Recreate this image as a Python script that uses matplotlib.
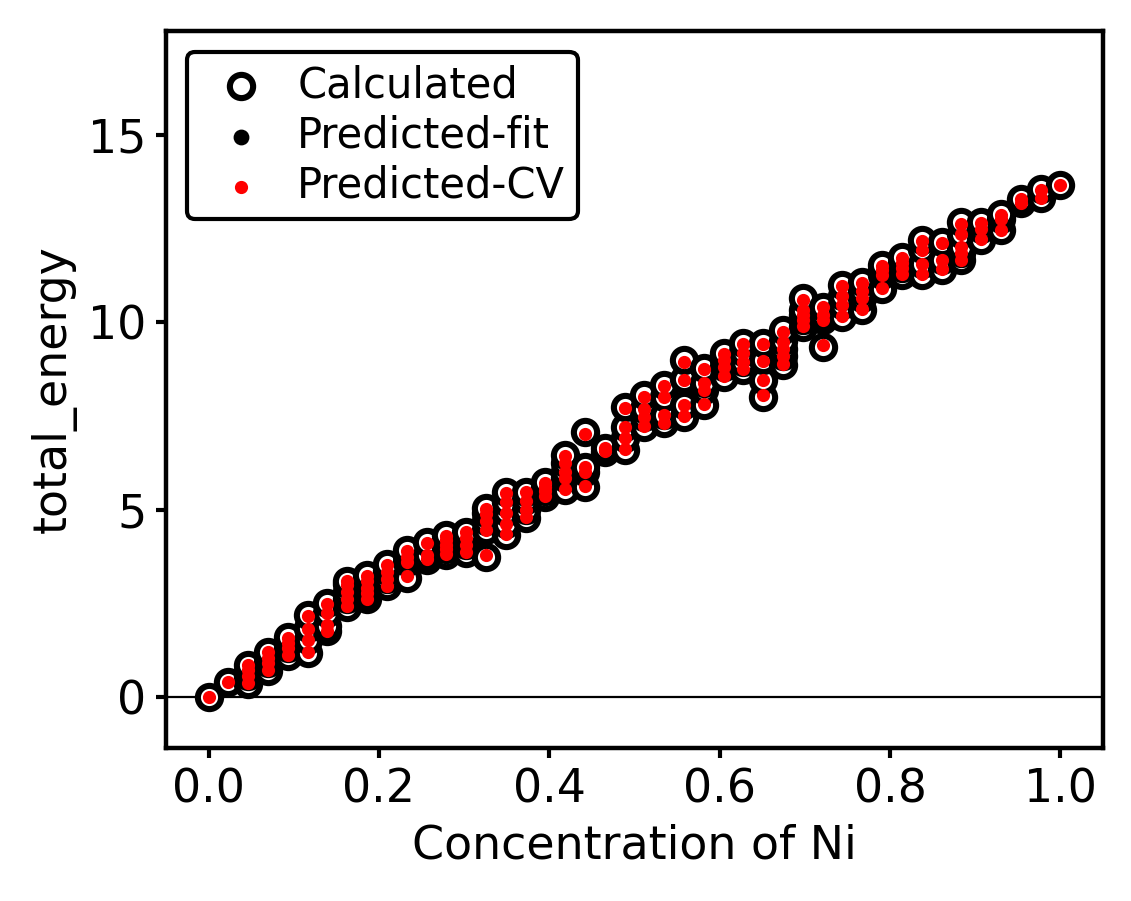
import numpy as np
import matplotlib
matplotlib.use("Agg")
import matplotlib.pyplot as plt

# number of Ni atoms out of 43 sites, one entry per structure
n_ni = [0,
        1,
        2, 2, 2, 2,
        3, 3, 3, 3,
        4, 4, 4, 4,
        5, 5, 5, 5,
        6, 6, 6, 6,
        7, 7, 7, 7, 7,
        8, 8, 8, 8, 8,
        9, 9, 9, 9,
        10, 10, 10, 10,
        11, 11, 11,
        12, 12, 12, 12, 12,
        13, 13, 13, 13,
        14, 14, 14, 14, 14,
        15, 15, 15, 15, 15,
        16, 16, 16, 16,
        17, 17, 17, 17,
        18, 18, 18, 18, 18,
        19, 19, 19, 19,
        20, 20,
        21, 21, 21, 21,
        22, 22, 22, 22,
        23, 23, 23, 23,
        24, 24, 24, 24,
        25, 25, 25, 25,
        26, 26, 26, 26,
        27, 27, 27, 27,
        28, 28, 28, 28,
        29, 29, 29, 29, 29,
        30, 30, 30, 30, 30,
        31, 31, 31, 31,
        32, 32, 32, 32,
        33, 33, 33, 33,
        34, 34, 34, 34,
        35, 35, 35, 35,
        36, 36, 36, 36,
        37, 37, 37,
        38, 38, 38, 38, 38,
        39, 39, 39,
        40, 40, 40,
        41, 41,
        42, 42,
        43]
n_sites = 43

calc_energy = [0.00,
               0.39,
               0.35, 0.55, 0.70, 0.85,
               0.70, 0.90, 1.05, 1.20,
               1.10, 1.30, 1.45, 1.60,
               1.17, 1.52, 1.84, 2.19,
               1.75, 1.90, 2.24, 2.50,
               2.40, 2.60, 2.80, 3.00, 3.10,
               2.60, 2.75, 2.90, 3.10, 3.25,
               2.95, 3.15, 3.35, 3.55,
               3.18, 3.60, 3.75, 3.92,
               3.66, 3.78, 4.14,
               3.80, 3.95, 4.06, 4.20, 4.32,
               3.85, 4.05, 4.25, 4.41,
               3.74, 4.46, 4.70, 4.90, 5.04,
               4.33, 4.62, 4.93, 5.20, 5.48,
               4.77, 5.00, 5.25, 5.48,
               5.35, 5.50, 5.60, 5.74,
               5.52, 5.84, 6.00, 6.25, 6.46,
               5.60, 6.00, 6.15, 7.08,
               6.55, 6.65,
               6.59, 6.90, 7.21, 7.75,
               7.20, 7.48, 7.70, 8.06,
               7.30, 7.53, 8.01, 8.33,
               7.48, 7.79, 8.48, 8.99,
               7.79, 8.20, 8.37, 8.77,
               8.55, 8.80, 9.00, 9.17,
               8.73, 8.95, 9.20, 9.44,
               8.01, 8.46, 8.99, 9.44,
               8.86, 9.10, 9.30, 9.50, 9.79,
               9.88, 10.06, 10.20, 10.33, 10.64,
               9.35, 10.06, 10.20, 10.42,
               10.15, 10.46, 10.70, 10.99,
               10.33, 10.64, 10.85, 11.08,
               10.90, 11.26, 11.40, 11.53,
               11.26, 11.45, 11.60, 11.75,
               11.26, 11.57, 11.95, 12.20,
               11.40, 11.66, 12.15,
               11.66, 11.85, 12.02, 12.37, 12.68,
               12.20, 12.50, 12.68,
               12.46, 12.75, 12.90,
               13.20, 13.30,
               13.31, 13.57,
               13.68]

fit_energy = [0.00,
              0.40,
              0.36, 0.55, 0.71, 0.84,
              0.71, 0.90, 1.04, 1.19,
              1.11, 1.30, 1.45, 1.59,
              1.18, 1.52, 1.83, 2.18,
              1.76, 1.91, 2.23, 2.49,
              2.41, 2.60, 2.79, 2.99, 3.09,
              2.61, 2.76, 2.90, 3.09, 3.24,
              2.96, 3.15, 3.34, 3.54,
              3.20, 3.60, 3.74, 3.91,
              3.67, 3.79, 4.13,
              3.81, 3.95, 4.06, 4.19, 4.31,
              3.86, 4.05, 4.24, 4.40,
              3.76, 4.46, 4.69, 4.89, 5.03,
              4.34, 4.62, 4.92, 5.19, 5.46,
              4.78, 5.00, 5.24, 5.47,
              5.36, 5.50, 5.60, 5.73,
              5.53, 5.84, 6.00, 6.24, 6.45,
              5.61, 6.00, 6.15, 7.05,
              6.56, 6.65,
              6.60, 6.90, 7.20, 7.73,
              7.21, 7.48, 7.70, 8.04,
              7.31, 7.53, 8.00, 8.31,
              7.49, 7.80, 8.47, 8.96,
              7.80, 8.20, 8.37, 8.76,
              8.56, 8.80, 9.00, 9.16,
              8.74, 8.95, 9.19, 9.43,
              8.03, 8.46, 8.98, 9.43,
              8.87, 9.10, 9.30, 9.49, 9.77,
              9.89, 10.06, 10.20, 10.32, 10.62,
              9.37, 10.06, 10.20, 10.41,
              10.16, 10.46, 10.70, 10.98,
              10.34, 10.64, 10.85, 11.07,
              10.91, 11.26, 11.40, 11.52,
              11.27, 11.45, 11.60, 11.74,
              11.27, 11.57, 11.94, 12.19,
              11.41, 11.66, 12.14,
              11.67, 11.85, 12.02, 12.36, 12.66,
              12.21, 12.50, 12.67,
              12.47, 12.75, 12.89,
              13.20, 13.29,
              13.31, 13.56,
              13.67]

cv_energy = [0.00,
             0.40,
             0.37, 0.55, 0.71, 0.84,
             0.72, 0.90, 1.04, 1.19,
             1.12, 1.30, 1.45, 1.58,
             1.19, 1.52, 1.82, 2.17,
             1.77, 1.91, 2.23, 2.48,
             2.42, 2.60, 2.79, 2.98, 3.08,
             2.62, 2.76, 2.90, 3.09, 3.23,
             2.97, 3.15, 3.34, 3.53,
             3.22, 3.60, 3.74, 3.90,
             3.68, 3.79, 4.12,
             3.82, 3.95, 4.06, 4.19, 4.30,
             3.87, 4.05, 4.24, 4.39,
             3.78, 4.46, 4.69, 4.89, 5.02,
             4.35, 4.62, 4.92, 5.19, 5.45,
             4.79, 5.00, 5.24, 5.46,
             5.37, 5.50, 5.60, 5.72,
             5.54, 5.84, 6.00, 6.24, 6.44,
             5.62, 6.00, 6.15, 7.02,
             6.57, 6.65,
             6.61, 6.90, 7.20, 7.71,
             7.22, 7.48, 7.70, 8.02,
             7.32, 7.53, 8.00, 8.30,
             7.50, 7.80, 8.47, 8.94,
             7.81, 8.20, 8.37, 8.75,
             8.57, 8.80, 9.00, 9.15,
             8.75, 8.95, 9.19, 9.42,
             8.05, 8.46, 8.98, 9.42,
             8.88, 9.10, 9.30, 9.49, 9.75,
             9.90, 10.06, 10.20, 10.32, 10.60,
             9.39, 10.06, 10.20, 10.40,
             10.17, 10.46, 10.70, 10.97,
             10.35, 10.64, 10.85, 11.06,
             10.92, 11.26, 11.40, 11.51,
             11.28, 11.45, 11.60, 11.73,
             11.28, 11.57, 11.94, 12.18,
             11.42, 11.66, 12.13,
             11.68, 11.85, 12.02, 12.35, 12.64,
             12.22, 12.50, 12.66,
             12.48, 12.75, 12.88,
             13.20, 13.29,
             13.31, 13.55,
             13.66]

conc = np.array(n_ni) / n_sites
calc = np.array(calc_energy)

fig = plt.figure(figsize=(5.655, 4.505), dpi=200)
ax = fig.add_axes([0.1468, 0.1698, 0.8284, 0.7958])

ax.scatter(conc, fit_energy, s=22, c='k', label='Predicted-fit', zorder=2)
ax.scatter(conc, calc, s=70, facecolors='white', edgecolors='k', linewidths=2.2,
           label='Calculated', zorder=3)
ax.scatter(conc, cv_energy, s=14, c='red', label='Predicted-CV', zorder=4)
ax.axhline(0, color='k', linewidth=0.8, zorder=1)

r = calc.max() - calc.min()
ax.set_xlim(-0.05, 1.05)
ax.set_ylim(calc.min() - 0.1 * r, calc.max() + 0.3 * r)
ax.set_xticks([0.0, 0.2, 0.4, 0.6, 0.8, 1.0])
ax.set_yticks([0, 5, 10, 15])

ax.set_xlabel('Concentration of Ni', fontsize=16.5)
ax.set_ylabel('total_energy', fontsize=16.5)
ax.tick_params(labelsize=16.5, width=1.5, length=3.5)
for sp in ax.spines.values():
    sp.set_linewidth(1.6)

handles, labels = ax.get_legend_handles_labels()
order = [1, 0, 2]
leg = ax.legend([handles[i] for i in order], [labels[i] for i in order],
                loc='upper left', fontsize=15, framealpha=1,
                handletextpad=0.35, borderpad=0.3, labelspacing=0.2)
leg.get_frame().set_edgecolor('k')
leg.get_frame().set_linewidth(1.5)

fig.savefig('out.png', dpi=200)
